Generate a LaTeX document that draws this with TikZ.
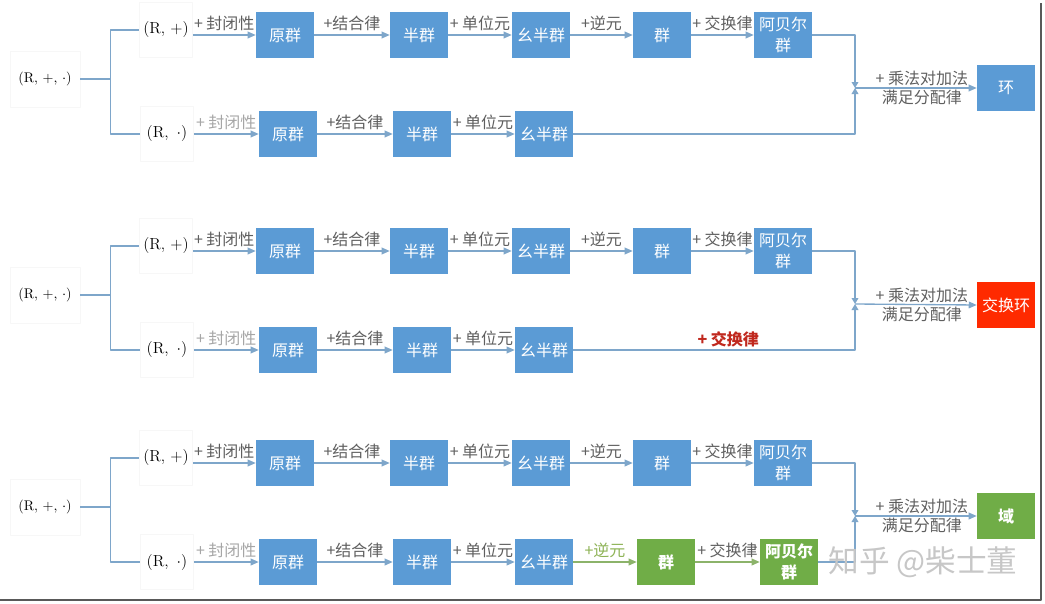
\documentclass[tikz,border=0pt]{standalone}
\usepackage{fontspec}
\newfontfamily\cjk{Noto Sans CJK SC}
\usetikzlibrary{arrows.meta}

\definecolor{boxblue}{HTML}{5B9BD5}
\definecolor{linkblue}{HTML}{7EA6CA}
\definecolor{boxgreen}{HTML}{70AD47}
\definecolor{leafgreen}{HTML}{8CB36A}
\definecolor{boxred}{HTML}{FF2A00}
\definecolor{labelgray}{HTML}{5F5F5F}
\definecolor{palegray}{HTML}{A6A6A6}
\definecolor{labelred}{HTML}{C0281E}
\definecolor{labelgreen}{HTML}{8DB255}

\begin{document}
\begin{tikzpicture}[x=0.75pt, y=-0.75pt, line join=round,
  blk/.style={fill=boxblue, text=white, font=\cjk\fontsize{12}{16}\selectfont,
    minimum width=43.5pt, minimum height=34.5pt, inner sep=0pt, align=center},
  setbox/.style={draw=black!3, font=\fontsize{12}{14}\selectfont,
    minimum width=39.75pt, minimum height=41.25pt, inner sep=0pt},
  wire/.style={draw=linkblue, line width=1pt},
  arr/.style={wire, -{Triangle[length=6pt,width=5pt]}},
  meet/.style={wire, -{Triangle[length=4.5pt,width=5pt]}},
  lbl/.style={midway, above=3pt, inner sep=0pt, text=labelgray,
    font=\cjk\fontsize{12}{14}\selectfont},
  dist/.style={inner sep=0pt, align=center, text=labelgray,
    font=\cjk\fontsize{12}{14.25}\selectfont}]
  \useasboundingbox (0,0) rectangle (1045,603); % identical box

  \foreach \p/\dy in {1/0,2/216,3/428}{
    % --- start and branches ---
    \node[setbox, minimum width=52.5pt, minimum height=42pt, font=\fontsize{10.5}{12}\selectfont]
      (rng\p) at (45,79+\dy) {(R, +, $\cdot$)};
    \node[setbox] (add\p) at (166,30+\dy) {(R, +)};
    \node[setbox] (mul\p) at (167,134+\dy) {(R,\enspace$\cdot$)};
    \draw[wire] (rng\p.east) -- ++(30,0) coordinate (fork\p);
    \draw[wire] (fork\p) |- (add\p.west);
    \draw[wire] (fork\p) |- (mul\p.west);

    % --- addition row ---
    \foreach \i/\x/\t in {1/285/原群, 2/419/半群, 3/541/幺半群, 4/662/群, 5/783/阿贝尔\\群}
      \node[blk] (t\p-\i) at (\x,35+\dy) {\t};
    \draw[arr] (add\p.east |- t\p-1) -- node[lbl]{+ 封闭性} (t\p-1.west);
    \foreach \i/\j/\t in {1/2/+结合律, 2/3/+ 单位元, 3/4/+逆元, 4/5/+ 交换律}
      \draw[arr] (t\p-\i.east) -- node[lbl]{\t} (t\p-\j.west);

    % --- multiplication row ---
    \foreach \i/\x/\t in {1/288/原群, 2/422/半群, 3/544/幺半群}
      \node[blk] (b\p-\i) at (\x,134+\dy) {\t};
    \draw[arr] (mul\p.east |- b\p-1) -- node[lbl, text=palegray]{+ 封闭性} (b\p-1.west);
    \draw[arr] (b\p-1.east) -- node[lbl]{+结合律} (b\p-2.west);
    \draw[arr] (b\p-2.east) -- node[lbl]{+ 单位元} (b\p-3.west);

    % --- merge ---
    \coordinate (jn\p) at (855,88+\dy);
    \draw[meet] (t\p-5.east) -| (jn\p);
  }

  % --- panel 1: ring ---
  \draw[meet] (b1-3.east) -| (jn1);
  \node[blk] (ring) at (1006,88) {环};

  % --- panel 2: commutative ring ---
  \draw[meet] (b2-3.east) -| node[pos=0.275, above=2pt, inner sep=0pt, text=labelred,
    font=\cjk\bfseries\fontsize{12}{14}\selectfont]{+ 交换律} (jn2);
  \node[blk, fill=boxred] (cring) at (1006,305) {交换环};

  % --- panel 3: field ---
  \node[blk, fill=boxgreen, font=\cjk\bfseries\fontsize{12}{16}\selectfont] (b3-4) at (666,562) {群};
  \node[blk, fill=boxgreen, font=\cjk\bfseries\fontsize{12}{16}\selectfont] (b3-5) at (789,562) {阿贝尔\\群};
  \draw[arr, draw=leafgreen] (b3-3.east) -- node[lbl, text=labelgreen]{+逆元} (b3-4.west);
  \draw[arr, draw=leafgreen] (b3-4.east) -- node[lbl]{+ 交换律} (b3-5.west);
  \draw[meet] (b3-5.east) -| (jn3);
  \node[blk, fill=boxgreen, font=\cjk\bfseries\fontsize{12}{16}\selectfont] (field) at (1006,516) {域};

  \foreach \p/\e in {1/ring, 2/cring, 3/field}
    \draw[arr] (jn\p) -- node[pos=0.55, dist]{+ 乘法对加法\\满足分配律} (\e.west);

  % --- watermark and frame ---
  \node[text=black!22, font=\cjk\fontsize{23}{26}\selectfont] (mark) at (923,562) {知乎 @柴士董};
  \draw[black!65, line width=1.5pt] (1041,3) -- (1041,600) -- (0,600);
\end{tikzpicture}
\end{document}
